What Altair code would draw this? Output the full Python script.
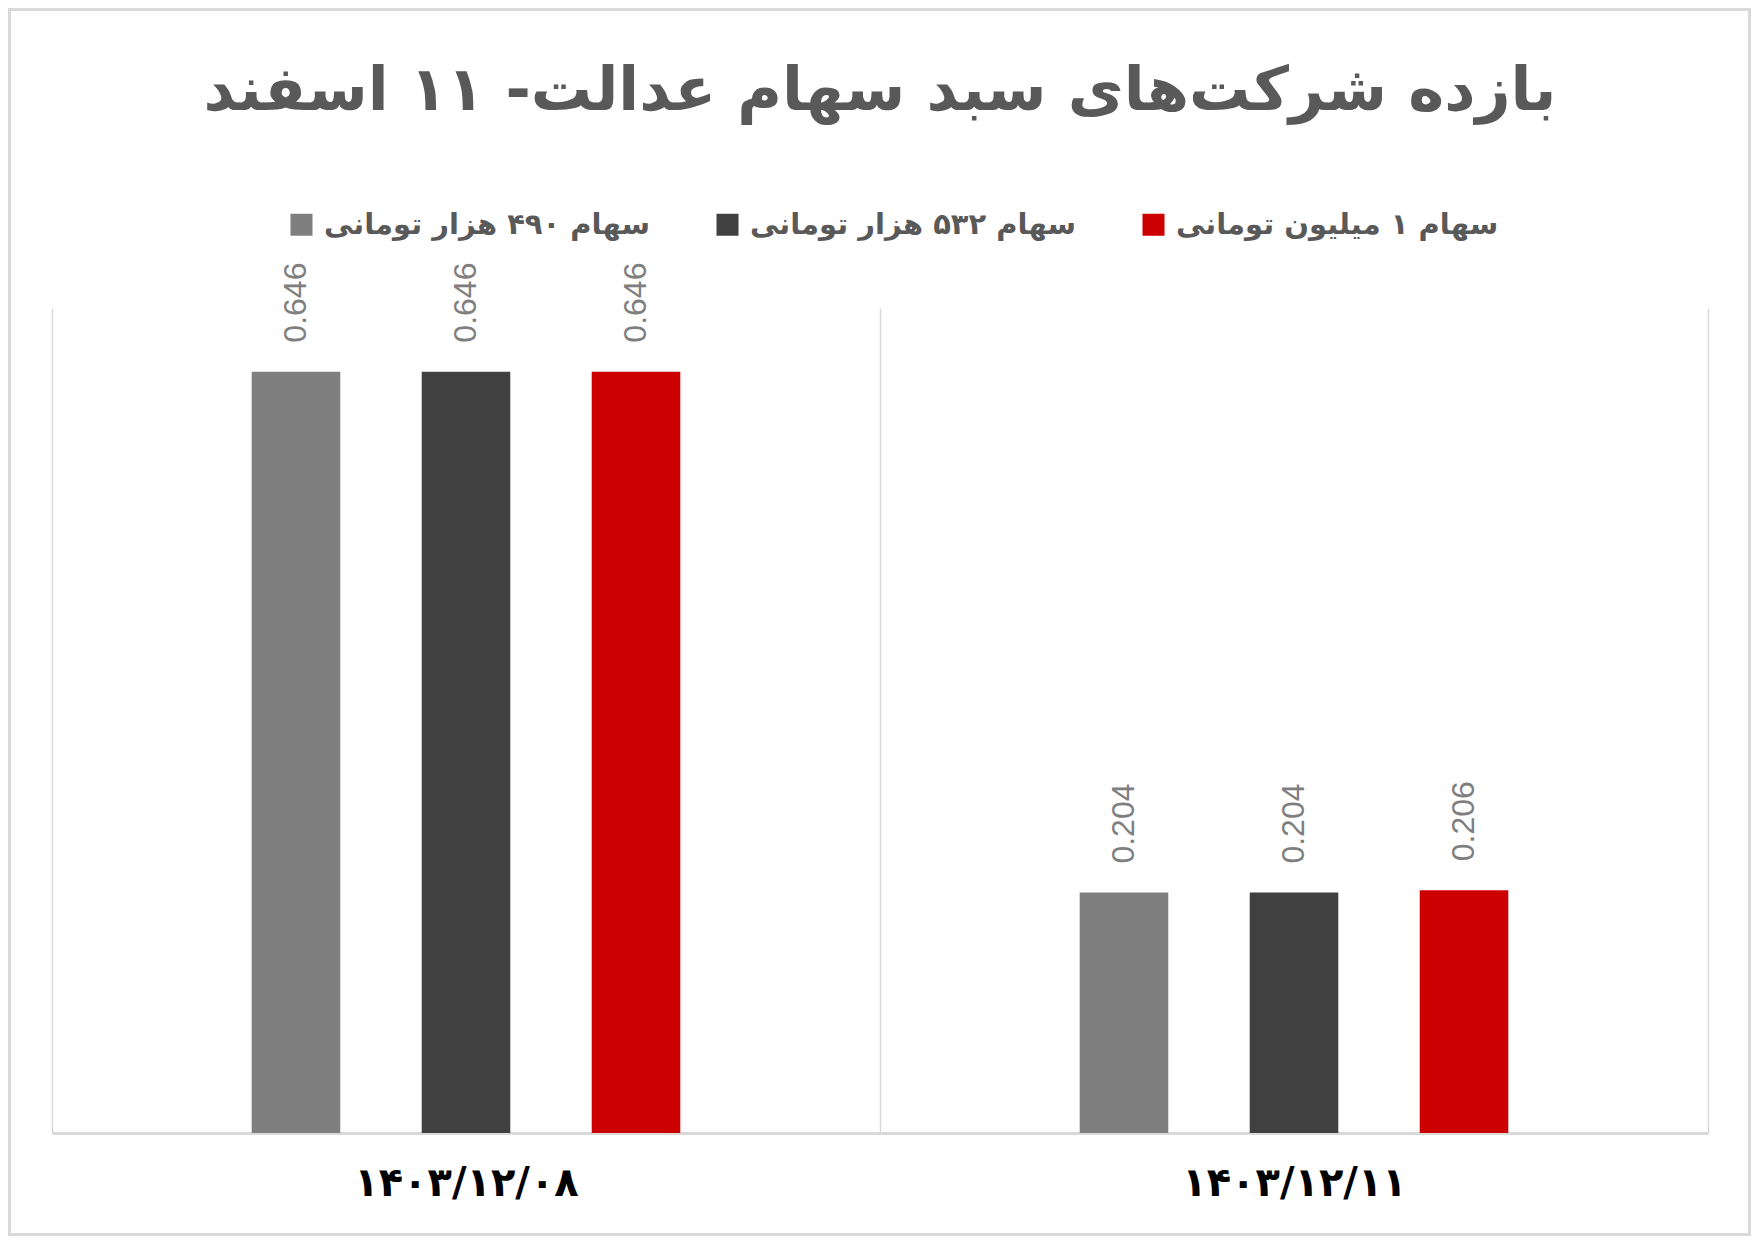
import altair as alt
import pandas as pd

dates = ["۱۴۰۳/۱۲/۰۸", "۱۴۰۳/۱۲/۱۱"]
series = ["سهام ۴۹۰ هزار تومانی", "سهام ۵۳۲ هزار تومانی", "سهام ۱ میلیون تومانی"]
s490 = [0.646, 0.204]
s532 = [0.646, 0.204]
s1m = [0.646, 0.206]
colors = ["#7f7f7f", "#404040", "#cc0000"]
title_text = "بازده شرکت‌های سبد سهام عدالت- ۱۱ اسفند"

rows = []
for name, vals in zip(series, [s490, s532, s1m]):
    for d, v in zip(dates, vals):
        rows.append({"date": d, "series": name, "value": v})
df = pd.DataFrame(rows)

PERSIAN = "DejaVu Sans"

x_enc = alt.X(
    "date:N",
    sort=dates,
    scale=alt.Scale(paddingInner=0, paddingOuter=0),
    axis=alt.Axis(
        title=None,
        labelAngle=0,
        labelFont=PERSIAN,
        labelFontSize=40,
        labelFontWeight="bold",
        labelColor="#000000",
        labelPadding=30,
        labelLimit=500,
        domainColor="#d9d9d9",
        domainWidth=3,
        ticks=False,
        grid=True,
        gridColor="#d9d9d9",
        gridWidth=1.5,
        tickBand="extent",
    ),
)
xo_enc = alt.XOffset(
    "series:N",
    sort=series,
    scale=alt.Scale(range=[199.7, 628.3], paddingInner=0.479, paddingOuter=0),
)
y_enc = alt.Y("value:Q", scale=alt.Scale(domain=[0, 0.7]), axis=None)

base = alt.Chart(df).encode(x=x_enc, xOffset=xo_enc, y=y_enc)

bars = base.mark_bar().encode(
    color=alt.Color(
        "series:N",
        sort=series,
        scale=alt.Scale(domain=series, range=colors),
        legend=alt.Legend(
            title=None,
            orient="none",
            legendX=235,
            legendY=-98,
            direction="horizontal",
            symbolType="square",
            symbolSize=484,
            symbolStrokeWidth=0,
            labelFont=PERSIAN,
            labelFontSize=29,
            labelFontWeight="bold",
            labelColor="#595959",
            labelOffset=8,
            labelLimit=600,
            columnPadding=62,
        ),
    )
)

labels = base.mark_text(
    angle=270,
    align="left",
    baseline="middle",
    yOffset=-29,
    font="Liberation Sans",
    fontSize=32,
    color="#7f7f7f",
).encode(text=alt.Text("value:Q", format=".3f"))

border_df = pd.DataFrame({"k": [0]})
border = alt.Chart(border_df).mark_rect(
    fill=None, filled=False, stroke="#d9d9d9", strokeWidth=3
).encode(
    x=alt.value(-42.5), x2=alt.value(1697.5), y=alt.value(-298.5), y2=alt.value(926.5)
)

chart = (
    alt.layer(border, bars, labels)
    .properties(
        width=1656,
        height=825,
        padding={"left": 44, "top": 300, "right": 43, "bottom": 103},
        autosize=alt.AutoSizeParams(type="none"),
        background="white",
        title=alt.TitleParams(
            title_text,
            font=PERSIAN,
            fontSize=61,
            fontWeight="bold",
            color="#595959",
            anchor="middle",
            baseline="alphabetic",
            offset=-163,
        ),
    )
    .configure_view(stroke=None)
)

chart.save("out.html", embed_options={"renderer": "svg", "actions": False})
